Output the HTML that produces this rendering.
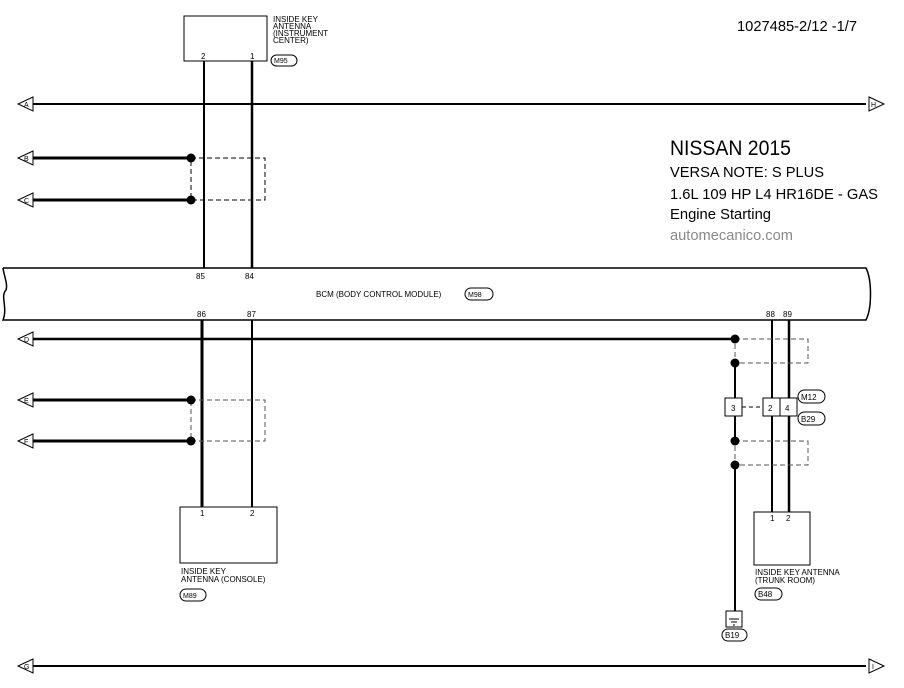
<!DOCTYPE html>
<html><head><meta charset="utf-8"><style>html,body{margin:0;padding:0;background:#fff}svg{display:block}</style></head><body>
<svg width="904" height="688" viewBox="0 0 904 688" xmlns="http://www.w3.org/2000/svg" font-family="Liberation Sans, sans-serif">
<rect width="904" height="688" fill="#fff"/>
<g fill="none" stroke="#000">
<!-- top box -->
<rect x="184" y="16" width="83" height="45" stroke-width="1"/>
<line x1="204" y1="61" x2="204" y2="268" stroke-width="2"/>
<line x1="252" y1="61" x2="252" y2="268" stroke-width="2.5"/>
<!-- A/H -->
<line x1="33" y1="104" x2="866" y2="104" stroke-width="2"/>
<!-- B, C -->
<line x1="33" y1="158" x2="191" y2="158" stroke-width="3"/>
<line x1="33" y1="200" x2="191" y2="200" stroke-width="3"/>
<path d="M191 158 H265 V200 H191 Z" stroke-width="1" stroke-dasharray="5,3"/>
<!-- BCM -->
<path d="M3 268 H866 C872 280 872 308 866 320 H3 C8 308 0 296 6 290 C8 284 4 276 3 268" stroke-width="1.5"/>
<!-- D -->
<line x1="33" y1="339" x2="735" y2="339" stroke-width="2.5"/>
<line x1="202" y1="320" x2="202" y2="507" stroke-width="3"/>
<line x1="252" y1="320" x2="252" y2="507" stroke-width="2"/>
<!-- E F -->
<line x1="33" y1="400" x2="191" y2="400" stroke-width="3"/>
<line x1="33" y1="441" x2="191" y2="441" stroke-width="3"/>
<path d="M191 400 H265 V441 H191 Z" stroke-width="1" stroke-dasharray="5,3" stroke="#555"/>
<!-- console box -->
<rect x="180" y="507" width="97" height="56" stroke-width="1"/>
<!-- right side -->
<line x1="772" y1="320" x2="772" y2="512" stroke-width="2"/>
<line x1="789" y1="320" x2="789" y2="512" stroke-width="2.5"/>
<path d="M735 339 H808 V363 H735 Z" stroke-width="1" stroke-dasharray="5,3" stroke="#555"/>
<path d="M735 441 H808 V465 H735 Z" stroke-width="1" stroke-dasharray="5,3" stroke="#555"/>
<line x1="735" y1="363" x2="735" y2="398" stroke-width="2"/>
<line x1="735" y1="416" x2="735" y2="441" stroke-width="2"/>
<line x1="735" y1="465" x2="735" y2="611" stroke-width="2"/>
<line x1="742" y1="407" x2="763" y2="407" stroke-width="1" stroke-dasharray="4,3"/>
<rect x="725" y="398" width="17" height="18" fill="#fff" stroke-width="1"/>
<rect x="763" y="398" width="34" height="18" fill="#fff" stroke-width="1"/>
<line x1="780" y1="398" x2="780" y2="416" stroke-width="1"/>
<rect x="754" y="512" width="56" height="53" stroke-width="1"/>
<rect x="726" y="611" width="16" height="16" stroke-width="1"/>
<path d="M729 619 H739 M731 622 H737 M733 625 H735" stroke-width="1"/>
<!-- G/I -->
<line x1="33" y1="666" x2="866" y2="666" stroke-width="2"/>
<!-- ovals -->
<rect x="271" y="55" width="26" height="11" rx="5.5" stroke-width="1"/>
<rect x="465" y="288" width="28" height="12" rx="6" stroke-width="1"/>
<rect x="180" y="589" width="26" height="12" rx="6" stroke-width="1"/>
<rect x="798" y="390" width="27" height="13" rx="6.5" stroke-width="1"/>
<rect x="798" y="412" width="27" height="13" rx="6.5" stroke-width="1"/>
<rect x="755" y="588" width="27" height="12" rx="6" stroke-width="1"/>
<rect x="722" y="629" width="25" height="12" rx="6" stroke-width="1"/>
<!-- arrows -->
<g stroke-width="1">
<path d="M33 97 L18 104 L33 111 Z"/>
<path d="M33 151 L18 158 L33 165 Z"/>
<path d="M33 193 L18 200 L33 207 Z"/>
<path d="M33 332 L18 339 L33 346 Z"/>
<path d="M33 393 L18 400 L33 407 Z"/>
<path d="M33 434 L18 441 L33 448 Z"/>
<path d="M33 659 L18 666 L33 673 Z"/>
<path d="M869 97 L884 104 L869 111 Z"/>
<path d="M869 659 L884 666 L869 673 Z"/>
</g>
</g>
<g fill="#000">
<circle cx="191" cy="158" r="4.5"/><circle cx="191" cy="200" r="4.5"/>
<circle cx="191" cy="400" r="4.5"/><circle cx="191" cy="441" r="4.5"/>
<circle cx="735" cy="339" r="4.5"/><circle cx="735" cy="363" r="4.5"/>
<circle cx="735" cy="441" r="4.5"/><circle cx="735" cy="465" r="4.5"/>
</g>
<g font-size="7" fill="#000">
<text x="24" y="107">A</text><text x="24" y="161">B</text><text x="24" y="203">C</text>
<text x="24" y="342">D</text><text x="24" y="403">E</text><text x="24" y="444">F</text>
<text x="24" y="669">G</text><text x="871" y="107">H</text><text x="872" y="669">I</text>
</g>
<g font-size="8" fill="#000">
<text x="273" y="22">INSIDE KEY</text><text x="273" y="29">ANTENNA</text>
<text x="273" y="36">(INSTRUMENT</text><text x="273" y="43">CENTER)</text>
<text x="274" y="63" font-size="7">M95</text>
<text x="201" y="59">2</text><text x="250" y="59">1</text>
<text x="196" y="279">85</text><text x="245" y="279">84</text>
<text x="197" y="317">86</text><text x="247" y="317">87</text>
<text x="766" y="317">88</text><text x="783" y="317">89</text>
<text x="316" y="297">BCM (BODY CONTROL MODULE)</text>
<text x="468" y="297" font-size="7">M98</text>
<text x="731" y="411">3</text><text x="768" y="411">2</text><text x="785" y="411">4</text>
<text x="801" y="400">M12</text><text x="801" y="422">B29</text>
<text x="200" y="516">1</text><text x="250" y="516">2</text>
<text x="181" y="574">INSIDE KEY</text><text x="181" y="582">ANTENNA (CONSOLE)</text>
<text x="183" y="598" font-size="7">M89</text>
<text x="770" y="521">1</text><text x="786" y="521">2</text>
<text x="755" y="575">INSIDE KEY ANTENNA</text><text x="755" y="583">(TRUNK ROOM)</text>
<text x="758" y="597">B48</text>
<text x="725" y="638">B19</text>
</g>
<text x="737" y="31" font-size="15" textLength="120" lengthAdjust="spacingAndGlyphs">1027485-2/12 -1/7</text>
<text x="670" y="155" font-size="21" textLength="121" lengthAdjust="spacingAndGlyphs">NISSAN 2015</text>
<text x="670" y="177" font-size="15" textLength="154" lengthAdjust="spacingAndGlyphs">VERSA NOTE: S PLUS</text>
<text x="670" y="199" font-size="15" textLength="208" lengthAdjust="spacingAndGlyphs">1.6L 109 HP L4 HR16DE - GAS</text>
<text x="670" y="219" font-size="15" textLength="101" lengthAdjust="spacingAndGlyphs">Engine Starting</text>
<text x="670" y="240" font-size="15" fill="#888" textLength="123" lengthAdjust="spacingAndGlyphs">automecanico.com</text>
</svg>
</body></html>
